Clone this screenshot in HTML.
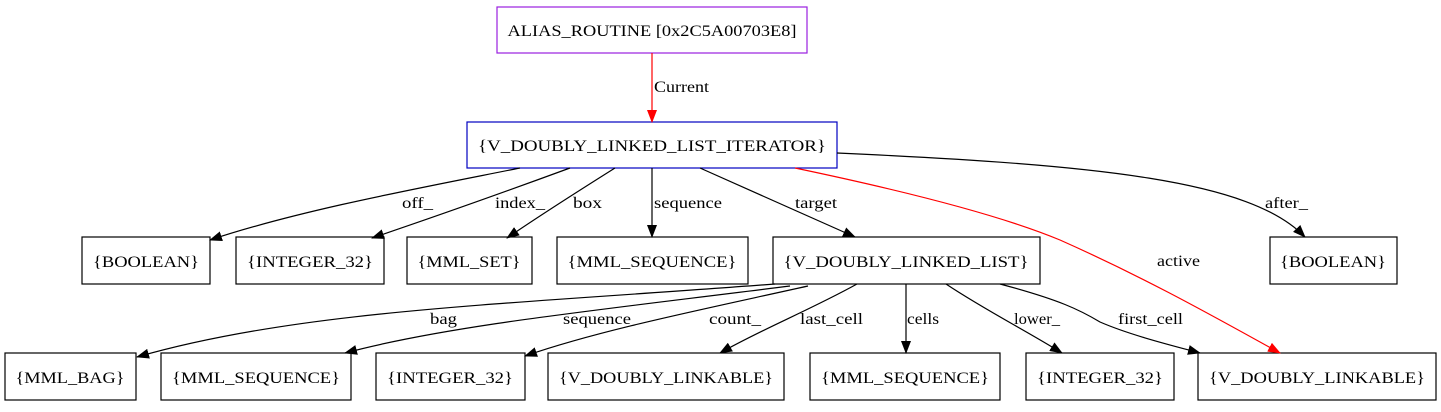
<!DOCTYPE html>
<html><head><meta charset="utf-8"><style>
html,body{margin:0;padding:0;background:#fff}
text{font-family:"Liberation Serif",serif;font-size:16px;fill:#000}
</style></head><body>
<svg width="1441" height="407" viewBox="0 0 1441 407" xmlns="http://www.w3.org/2000/svg">
<defs>
<marker id="a" markerWidth="13" markerHeight="10" refX="12" refY="5" orient="auto" markerUnits="userSpaceOnUse"><path d="M0,0 L13,5 L0,10z" fill="#000"/></marker>
<marker id="r" markerWidth="13" markerHeight="10" refX="12" refY="5" orient="auto" markerUnits="userSpaceOnUse"><path d="M0,0 L13,5 L0,10z" fill="red"/></marker>
</defs>
<g fill="#fff" stroke-width="1.2">
<rect x="497" y="7" width="310" height="46" stroke="#9a1fe0"/>
<rect x="467" y="122" width="370" height="46" stroke="#0000c0"/>
<g stroke="#000">
<rect x="82" y="237" width="128" height="47"/>
<rect x="236" y="237" width="148" height="47"/>
<rect x="407" y="237" width="125" height="47"/>
<rect x="557" y="237" width="191" height="47"/>
<rect x="773" y="237" width="267" height="47"/>
<rect x="1270" y="237" width="127" height="47"/>
<rect x="5" y="353" width="131" height="47"/>
<rect x="161" y="353" width="190" height="47"/>
<rect x="376" y="353" width="149" height="47"/>
<rect x="548" y="353" width="236" height="47"/>
<rect x="810" y="353" width="190" height="47"/>
<rect x="1026" y="353" width="148" height="47"/>
<rect x="1198" y="353" width="238" height="47"/>
</g></g>
<g fill="none" stroke="#000" stroke-width="1.2" marker-end="url(#a)">
<path d="M520,168 C420,188 300,210 210,240"/>
<path d="M570,168 C510,190 440,215 372,238"/>
<path d="M615,168 C580,190 545,212 507,238"/>
<path d="M652,168 L652,237"/>
<path d="M700,168 C750,190 800,212 855,237"/>
<path d="M837,153 C1100,165 1250,180 1305,237"/>
<path d="M775,284 C500,305 300,310 137,357"/>
<path d="M790,286 C600,310 450,325 345,353"/>
<path d="M808,286 C700,310 600,330 525,356"/>
<path d="M857,284 C810,310 760,330 720,353"/>
<path d="M906,284 L906,353"/>
<path d="M946,284 C985,310 1025,330 1062,353"/>
<path d="M1000,284 C1060,300 1080,310 1100,322 C1130,335 1170,345 1200,353"/>
</g>
<g fill="none" stroke="red" stroke-width="1.2" marker-end="url(#r)">
<path d="M652,53 L652,122"/>
<path d="M795,168 C900,190 1000,215 1060,240 C1150,280 1220,320 1280,353"/>
</g>
<g text-anchor="middle" lengthAdjust="spacingAndGlyphs">
<text x="652" y="36" textLength="289" lengthAdjust="spacingAndGlyphs">ALIAS_ROUTINE [0x2C5A00703E8]</text>
<text x="652" y="151" textLength="348" lengthAdjust="spacingAndGlyphs">{V_DOUBLY_LINKED_LIST_ITERATOR}</text>
<text x="146" y="267" textLength="106" lengthAdjust="spacingAndGlyphs">{BOOLEAN}</text>
<text x="310" y="267" textLength="126" lengthAdjust="spacingAndGlyphs">{INTEGER_32}</text>
<text x="469" y="267" textLength="103" lengthAdjust="spacingAndGlyphs">{MML_SET}</text>
<text x="652" y="267" textLength="169" lengthAdjust="spacingAndGlyphs">{MML_SEQUENCE}</text>
<text x="906" y="267" textLength="245" lengthAdjust="spacingAndGlyphs">{V_DOUBLY_LINKED_LIST}</text>
<text x="1333" y="267" textLength="106" lengthAdjust="spacingAndGlyphs">{BOOLEAN}</text>
<text x="70" y="383" textLength="109" lengthAdjust="spacingAndGlyphs">{MML_BAG}</text>
<text x="256" y="383" textLength="168" lengthAdjust="spacingAndGlyphs">{MML_SEQUENCE}</text>
<text x="450" y="383" textLength="126" lengthAdjust="spacingAndGlyphs">{INTEGER_32}</text>
<text x="666" y="383" textLength="214" lengthAdjust="spacingAndGlyphs">{V_DOUBLY_LINKABLE}</text>
<text x="905" y="383" textLength="168" lengthAdjust="spacingAndGlyphs">{MML_SEQUENCE}</text>
<text x="1100" y="383" textLength="126" lengthAdjust="spacingAndGlyphs">{INTEGER_32}</text>
<text x="1317" y="383" textLength="216" lengthAdjust="spacingAndGlyphs">{V_DOUBLY_LINKABLE}</text>
</g>
<g>
<text x="654" y="92" textLength="55" lengthAdjust="spacingAndGlyphs">Current</text>
<text x="402" y="208" textLength="31" lengthAdjust="spacingAndGlyphs">off_</text>
<text x="495" y="208" textLength="50" lengthAdjust="spacingAndGlyphs">index_</text>
<text x="573" y="208" textLength="29" lengthAdjust="spacingAndGlyphs">box</text>
<text x="654" y="208" textLength="68" lengthAdjust="spacingAndGlyphs">sequence</text>
<text x="795" y="208" textLength="42" lengthAdjust="spacingAndGlyphs">target</text>
<text x="1157" y="266" textLength="43" lengthAdjust="spacingAndGlyphs">active</text>
<text x="1265" y="208" textLength="43" lengthAdjust="spacingAndGlyphs">after_</text>
<text x="430" y="324" textLength="27" lengthAdjust="spacingAndGlyphs">bag</text>
<text x="563" y="324" textLength="68" lengthAdjust="spacingAndGlyphs">sequence</text>
<text x="709" y="324" textLength="52" lengthAdjust="spacingAndGlyphs">count_</text>
<text x="800" y="324" textLength="63" lengthAdjust="spacingAndGlyphs">last_cell</text>
<text x="907" y="324" textLength="32" lengthAdjust="spacingAndGlyphs">cells</text>
<text x="1014" y="324" textLength="46" lengthAdjust="spacingAndGlyphs">lower_</text>
<text x="1118" y="324" textLength="65" lengthAdjust="spacingAndGlyphs">first_cell</text>
</g>
</svg>
</body></html>
